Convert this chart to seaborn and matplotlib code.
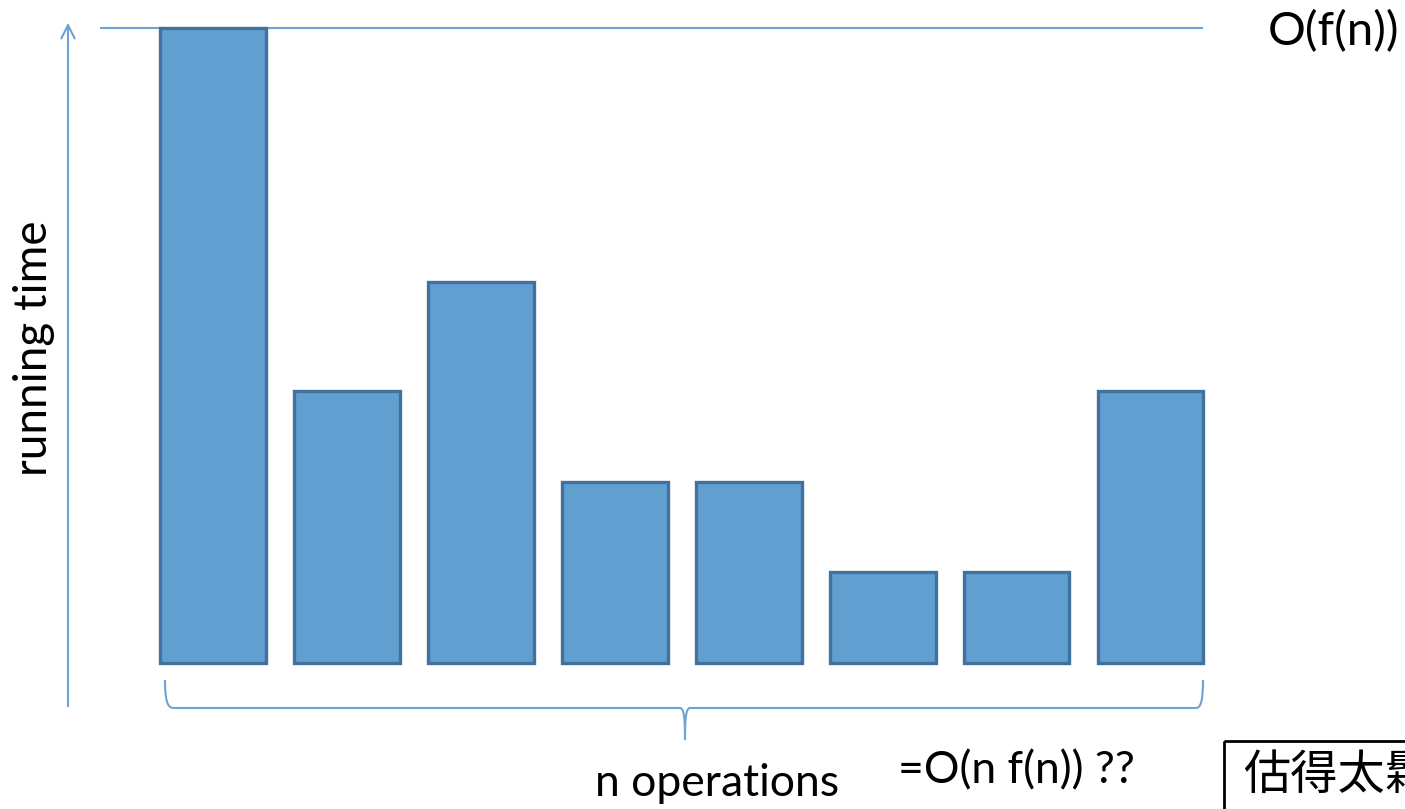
import matplotlib
matplotlib.use("Agg")
import matplotlib.pyplot as plt
import seaborn as sns
import pandas as pd
from matplotlib.path import Path
from matplotlib.patches import PathPatch, Rectangle

# data
operations = ["op1", "op2", "op3", "op4", "op5", "op6", "op7", "op8"]
running_time = [7, 3, 4.2, 2, 2, 1, 1, 3]

W, H = 1405, 809
sns.set_theme(style="white")
plt.rcParams["font.family"] = ["Lato", "Noto Sans CJK TC", "DejaVu Sans"]

fig = plt.figure(figsize=(W / 100, H / 100), dpi=100)
ax = fig.add_axes([0, 0, 1, 1])

df = pd.DataFrame({"op": operations, "t": running_time})
sns.barplot(data=df, x="op", y="t", color="#629fd1", saturation=1, width=0.79,
            edgecolor="#41719c", linewidth=2.4, ax=ax)

# pixel mapping: bar centers 213 -> 1150 px, baseline at 663 px
step = (1150.5 - 213) / (len(operations) - 1)
ax.set_xlim(-213 / step, (W - 213) / step)
unit = (663 - 28) / max(running_time)
ax.set_ylim(-(H - 663) / unit, 663 / unit)
ax.axis("off")

# O(f(n)) level line
line_c = "#6fa3d6"
ax.hlines(max(running_time), 100 / step - 213 / step, 1203 / step - 213 / step,
          color=line_c, lw=1.5, zorder=0)

# overlay in pixel coordinates for decorations
ov = fig.add_axes([0, 0, 1, 1], facecolor="none")
ov.set_xlim(0, W)
ov.set_ylim(H, 0)
ov.axis("off")

# y arrow
ov.annotate("", xy=(68, 20), xytext=(68, 709),
            arrowprops=dict(arrowstyle="->,head_length=0.8,head_width=0.4", color=line_c, lw=1.5))

# brace under bars
verts = [(165, 680), (165, 708), (170, 708), (175, 708),
         (680, 708), (684, 708), (685, 718), (685, 740),
         (685, 718), (686, 708), (690, 708),
         (1196, 708), (1201, 708), (1203, 700), (1203, 680)]
codes = [Path.MOVETO, Path.CURVE4, Path.CURVE4, Path.CURVE4,
         Path.LINETO, Path.CURVE4, Path.CURVE4, Path.CURVE4,
         Path.CURVE4, Path.CURVE4, Path.CURVE4,
         Path.LINETO, Path.CURVE4, Path.CURVE4, Path.CURVE4]
ov.add_patch(PathPatch(Path(verts, codes), fill=False, edgecolor=line_c, lw=1.5))

# texts
ov.text(34, 348, "running time", rotation=90, ha="center", va="center", fontsize=33, color="black")
ov.text(1268, 32, "O(f(n))", ha="left", va="center", fontsize=34, color="black")
ov.text(717, 783, "n operations", ha="center", va="center", fontsize=32, color="black")
ov.text(898, 771, "=O(n f(n)) ??", ha="left", va="center", fontsize=32, color="black")

ov.add_patch(Rectangle((1224, 741), 300, 120, fill=False, edgecolor="black", lw=2, clip_on=False))
ov.text(1243, 776, "估得太鬆", ha="left", va="center", fontsize=34, color="black",
        family=["Noto Sans CJK TC", "DejaVu Sans"])

fig.savefig("out.png", dpi=100)
